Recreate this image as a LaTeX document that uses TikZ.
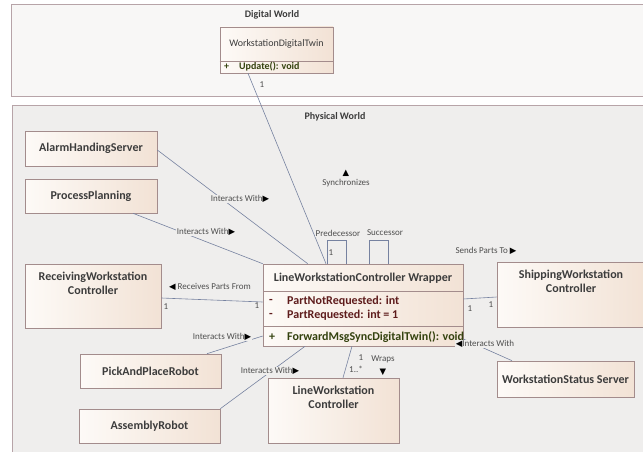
\documentclass[tikz,border=0pt]{standalone}
\usepackage{fontspec}
\setmainfont{Carlito}
\newfontfamily\symfont{DejaVu Sans}
\usetikzlibrary{positioning,shadows}

\definecolor{frameline}{HTML}{B7A4A8}
\definecolor{digifill}{HTML}{F8F7F6}
\definecolor{physfill}{HTML}{EFEEED}
\definecolor{boxline}{HTML}{A38C8C}
\definecolor{boxlight}{HTML}{FDFAF7}
\definecolor{boxpeach}{HTML}{F2E2D5}
\definecolor{linkcol}{HTML}{7682A0}
\definecolor{namecol}{HTML}{3C3C3C}
\definecolor{attrcol}{HTML}{5E1C1C}
\definecolor{opcol}{HTML}{34420F}
\definecolor{labcol}{HTML}{4E4E4E}

\newcommand{\tri}[1]{{\symfont\fontsize{8.5}{8.5}\selectfont\color{black}#1}}

\begin{document}
\begin{tikzpicture}[x=1pt,y=-1pt,
  frame/.style={draw=frameline,line width=0.9pt},
  frametitle/.style={font=\fontsize{10}{12}\selectfont\bfseries,text=namecol},
  cls/.style={draw=boxline,line width=0.6pt,left color=boxlight,right color=boxpeach,
    drop shadow={shadow xshift=1.2pt,shadow yshift=-1.2pt,opacity=0.25},
    inner sep=0pt,font=\fontsize{12}{14.5}\selectfont\bfseries,text=namecol,align=center},
  clsname/.style={inner sep=0pt,font=\fontsize{12}{14}\selectfont\bfseries,text=namecol,align=center},
  member/.style={inner sep=0pt,anchor=west,font=\fontsize{12}{14}\selectfont\bfseries},
  link/.style={draw=linkcol,line width=0.6pt},
  lab/.style={inner sep=0.6pt,fill=physfill,font=\fontsize{9}{10}\selectfont,text=labcol}]
\clip (0,0) rectangle (643,452);
\fill[white] (0,0) rectangle (643,452);

% frames
\draw[frame,fill=digifill] (11,4) rectangle (660,96);
\draw[frame,fill=physfill] (12,105) rectangle (660,470);
\node[frametitle] (digitaltitle) at (272,15) {Digital World};
\node[frametitle] (physicaltitle) at (335,117) {Physical World};

% digital twin
\node[cls,minimum width=113,minimum height=46] (twin) at (276.5,50) {};
\draw[boxline,line width=0.6pt] (twin.west |- 0,61) -- (twin.east |- 0,61);
\node[inner sep=0pt,font=\fontsize{10}{12}\selectfont,text=namecol] (twinname) at (twin.center |- 0,44) {WorkstationDigitalTwin};
\node[member,font=\fontsize{10}{12}\selectfont\bfseries,text=opcol] (twinplus) at (224,67) {+};
\node[member,font=\fontsize{10}{12}\selectfont\bfseries,text=opcol] (twinop) at (239,67) {Update(): void};

% wrapper
\node[cls,minimum width=200,minimum height=82] (wrapper) at (363,305) {};
\draw[boxline,line width=0.6pt] (263,291) -- (463,291) (263,326) -- (463,326);
\node[clsname] (wrappername) at (363,278) {LineWorkstationController Wrapper};
\node[member,text=attrcol] (minus1) at (269,301) {-};
\node[member,text=attrcol] (attr1) at (287,301) {PartNotRequested: int};
\node[member,text=attrcol] (minus2) at (269,315) {-};
\node[member,text=attrcol] (attr2) at (287,315) {PartRequested: int = 1};
\node[member,text=opcol] (plus1) at (269,337) {+};
\node[member,text=opcol] (op1) at (287,337) {ForwardMsgSyncDigitalTwin(): void};

% other classes
\node[cls,minimum width=132,minimum height=35] (alarm) at (91,148.5) {AlarmHandingServer};
\node[cls,minimum width=132,minimum height=34] (planning) at (91,196) {ProcessPlanning};
\node[cls,minimum width=136,minimum height=64] (receiving) at (93,296) {};
\node[clsname,below=8pt of receiving.north] (receivingname) {ReceivingWorkstation\\Controller};
\node[cls,minimum width=141,minimum height=34] (pickplace) at (150.5,371) {PickAndPlaceRobot};
\node[cls,minimum width=141,minimum height=34] (assembly) at (149.5,426) {AssemblyRobot};
\node[cls,minimum width=131,minimum height=65] (lwc) at (333.5,410.5) {};
\node[clsname,below=8pt of lwc.north] (lwcname) {LineWorkstation\\Controller};
\node[cls,minimum width=150,minimum height=65] (shipping) at (572,294.5) {};
\node[clsname,below=8pt of shipping.north,xshift=-1pt] (shippingname) {ShippingWorkstation\\Controller};
\node[cls,minimum width=137,minimum height=36] (status) at (565.5,379) {WorkstationStatus Server};

% connectors
\draw[link] ([xshift=-28.5pt]twin.south) -- ([xshift=-37pt]wrapper.north);
\draw[link] ([yshift=-1.5pt]alarm.east) -- ([xshift=45pt]wrapper.north west);
\draw[link] ([xshift=42pt]planning.south) -- (wrapper.north west);
\draw[link] ([yshift=-2pt]receiving.east) -- ([yshift=3pt]wrapper.west);
\draw[link] ([xshift=56.5pt]pickplace.north) -- ([yshift=-31pt]wrapper.west);
\draw[link] (assembly.north east) -- ([xshift=-58pt]wrapper.south);
\draw[link] ([xshift=9.5pt]lwc.north) -- ([xshift=-11pt]wrapper.south);
\draw[link] ([yshift=6pt]wrapper.east) -- ([yshift=-2.5pt]shipping.west);
\draw[link] ([xshift=-53.5pt]status.north) -- ([yshift=-34pt]wrapper.east);
\draw[link] ([xshift=-36pt]wrapper.north) -- ++(0,-23) -- ++(19,0) -- ++(0,23);
\draw[link] ([xshift=6pt]wrapper.north) -- ++(0,-23) -- ++(19,0) -- ++(0,23);

% connector labels
\node[lab,fill=none] (twinmult) at (262,85) {1};
\node[lab] (synclab) at (346,183) {Synchronizes};
\node[lab,fill=none] (syncarrow) at (346,173) {\tri{▲}};
\node[lab] (alarmlab) at (240,199) {Interacts With\tri{▶}};
\node[lab] (planninglab) at (206,232) {Interacts With\tri{▶}};
\node[lab] (predlab) at (338,233) {Predecessor};
\node[lab] (succlab) at (385,233) {Successor};
\node[lab,fill=none] (predmult) at (331,253) {1};
\node[lab] (receivinglab) at (210,287) {\tri{◀} Receives Parts From};
\node[lab,fill=none] (receivingmult) at (166,307) {1};
\node[lab,fill=none] (wrapmultl) at (257,306) {1};
\node[lab] (pickplacelab) at (222,337) {Interacts With\tri{▶}};
\node[lab] (assemblylab) at (270,371) {Interacts With\tri{▶}};
\node[lab,fill=none] (wrapsmult) at (361,358) {1};
\node[lab,fill=none] (lwcmult) at (356,369) {1..*};
\node[lab] (wrapslab) at (383,359) {Wraps};
\node[lab,fill=none] (wrapsarrow) at (383,372) {\tri{▼}};
\node[lab,fill=none] (wrapmultr) at (470,309) {1};
\node[lab,fill=none] (shippingmult) at (491,305) {1};
\node[lab] (sendslab) at (486,251) {Sends Parts To \tri{▶}};
\node[lab] (statuslab) at (485,344) {\tri{◀}Interacts With};
\end{tikzpicture}
\end{document}
